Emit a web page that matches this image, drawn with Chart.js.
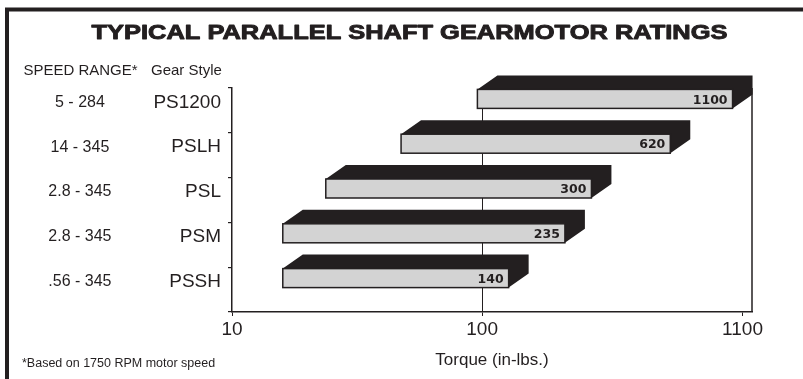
<!DOCTYPE html>
<html>
<head>
<meta charset="utf-8">
<title>Typical Parallel Shaft Gearmotor Ratings</title>
<script src="https://cdn.jsdelivr.net/npm/chart.js@4/dist/chart.umd.min.js"></script>
<style>
  html, body { margin: 0; padding: 0; background: #ffffff; }
  #wrap { width: 803px; height: 379px; }
</style>
</head>
<body>
<div id="wrap"><canvas id="chart" width="803" height="379"></canvas></div>
<script>
// Gear styles, their speed ranges and torque ranges (in-lbs.)
const gearStyles  = ['PS1200', 'PSLH', 'PSL', 'PSM', 'PSSH'];
const speedRanges = ['5 - 284', '14 - 345', '2.8 - 345', '2.8 - 345', '.56 - 345'];
const torqueMin   = [105, 52, 26, 17.5, 17.5];
const torqueMax   = [1100, 620, 300, 235, 140];
const torqueTicks = [10, 100, 1100];

const TITLE = 'TYPICAL PARALLEL SHAFT GEARMOTOR RATINGS';
const FOOTNOTE = '*Based on 1750 RPM motor speed';
const INK = '#231f20';
const FACE = '#d3d3d3';
const SANS = '"Liberation Sans", Arial, Helvetica, sans-serif';

// 3D look of the bars: depth offset of the back face
const DEPTH_X = 20, DEPTH_Y = -14;

// Page frame, heading, column headers and footnote
const decorPlugin = {
  id: 'decor',
  beforeDraw(chart) {
    const ctx = chart.ctx;
    ctx.save();
    ctx.fillStyle = '#ffffff';
    ctx.fillRect(0, 0, chart.width, chart.height);

    ctx.strokeStyle = INK;
    ctx.lineWidth = 4;
    ctx.beginPath();
    ctx.moveTo(7, chart.height);
    ctx.lineTo(7, 9.5);
    ctx.lineTo(chart.width, 9.5);
    ctx.stroke();

    // heavy, extended heading
    ctx.fillStyle = INK;
    ctx.strokeStyle = INK;
    ctx.lineWidth = 0.9;
    ctx.lineJoin = 'round';
    ctx.font = 'bold 19.5px ' + SANS;
    ctx.textAlign = 'center';
    ctx.textBaseline = 'alphabetic';
    const w = ctx.measureText(TITLE).width;
    ctx.save();
    ctx.translate(409.5, 38.5);
    ctx.scale(636 / w, 1);
    ctx.fillText(TITLE, 0, 0);
    ctx.strokeText(TITLE, 0, 0);
    ctx.restore();

    ctx.font = '15px ' + SANS;
    ctx.textAlign = 'center';
    ctx.fillText('SPEED RANGE*', 80.5, 75);
    ctx.textAlign = 'left';
    ctx.fillText('Gear Style', 151, 75);

    ctx.font = '12.5px ' + SANS;
    ctx.fillText(FOOTNOTE, 22, 367);
    ctx.restore();
  },
  beforeDatasetsDraw(chart) {
    const {ctx, chartArea} = chart;
    ctx.save();
    ctx.strokeStyle = INK;
    ctx.lineWidth = 1.5;
    ctx.beginPath();
    ctx.moveTo(chartArea.right, chartArea.top);
    ctx.lineTo(chartArea.right, chartArea.bottom);
    ctx.stroke();
    ctx.restore();
  }
};

// Draws each torque bar as a raised slab: dark top/side, grey front with value
const slabPlugin = {
  id: 'slabs',
  afterDatasetsDraw(chart) {
    const ctx = chart.ctx;
    const meta = chart.getDatasetMeta(0);
    const ds = chart.data.datasets[0];
    ctx.save();
    meta.data.forEach((bar, i) => {
      const p = bar.getProps(['x', 'y', 'base', 'height'], true);
      const h = p.height;
      const L = Math.min(p.base, p.x) - DEPTH_X / 2;
      const R = Math.max(p.base, p.x) - DEPTH_X / 2;
      const T = p.y - 11.5 - h / 2;
      const B = T + h;

      ctx.fillStyle = INK;
      ctx.beginPath();
      ctx.moveTo(L, T);
      ctx.lineTo(L + DEPTH_X, T + DEPTH_Y);
      ctx.lineTo(R + DEPTH_X, T + DEPTH_Y);
      ctx.lineTo(R + DEPTH_X, B + DEPTH_Y);
      ctx.lineTo(R, B);
      ctx.lineTo(R, T);
      ctx.closePath();
      ctx.fill();

      ctx.fillStyle = FACE;
      ctx.fillRect(L, T, R - L, h);
      ctx.strokeStyle = INK;
      ctx.lineWidth = 1.5;
      ctx.strokeRect(L, T, R - L, h);

      ctx.fillStyle = INK;
      ctx.font = 'bold 12.5px "DejaVu Sans", sans-serif';
      ctx.textAlign = 'right';
      ctx.textBaseline = 'middle';
      ctx.fillText(String(ds.data[i][1]), R - 5, (T + B) / 2 + 1.5);
    });
    ctx.restore();
  }
};

new Chart(document.getElementById('chart'), {
  type: 'bar',
  data: {
    labels: gearStyles,
    datasets: [{
      label: 'Torque (in-lbs.)',
      data: torqueMin.map((m, i) => [m, torqueMax[i]]),
      backgroundColor: 'rgba(0,0,0,0)',
      borderWidth: 0,
      categoryPercentage: 1,
      barPercentage: 0.424
    }]
  },
  options: {
    indexAxis: 'y',
    responsive: false,
    animation: false,
    events: [],
    layout: { padding: { left: 0, right: 51, top: 88, bottom: 0 } },
    plugins: {
      legend: { display: false },
      tooltip: { enabled: false },
      title: { display: false }
    },
    scales: {
      x: {
        type: 'logarithmic',
        min: 10,
        max: 1200,
        afterBuildTicks(scale) {
          scale.ticks = torqueTicks.map(v => ({ value: v }));
        },
        afterFit(scale) { scale.height = 67; },
        border: { display: true, color: INK, width: 1.5 },
        grid: {
          color: c => (c.tick && c.tick.value === 100 ? INK : 'rgba(0,0,0,0)'),
          tickColor: INK,
          lineWidth: 1,
          tickLength: 4,
          drawOnChartArea: true
        },
        ticks: {
          autoSkip: false,
          maxRotation: 0,
          padding: 2,
          color: INK,
          font: { family: SANS, size: 19 },
          callback: v => String(v)
        },
        title: {
          display: true,
          text: 'Torque (in-lbs.)',
          color: INK,
          font: { family: SANS, size: 17 },
          padding: { top: 0, bottom: 8 }
        }
      },
      y: {
        type: 'category',
        position: 'left',
        weight: 0,
        offset: true,
        afterFit(scale) { scale.width = 92; },
        border: { display: true, color: INK, width: 1.5 },
        grid: {
          offset: true,
          drawOnChartArea: false,
          tickLength: 4,
          tickColor: INK,
          lineWidth: 1.2
        },
        ticks: {
          padding: 7,
          labelOffset: -8,
          color: INK,
          font: { family: SANS, size: 19 }
        }
      },
      speed: {
        type: 'category',
        axis: 'y',
        position: 'left',
        weight: 1,
        offset: true,
        labels: speedRanges,
        afterFit(scale) { scale.width = 140; },
        border: { display: false },
        grid: { display: false, drawTicks: false },
        ticks: {
          crossAlign: 'center',
          padding: 28.5,
          labelOffset: -8,
          color: INK,
          font: { family: SANS, size: 16 }
        }
      }
    }
  },
  plugins: [decorPlugin, slabPlugin]
});
</script>
</body>
</html>
